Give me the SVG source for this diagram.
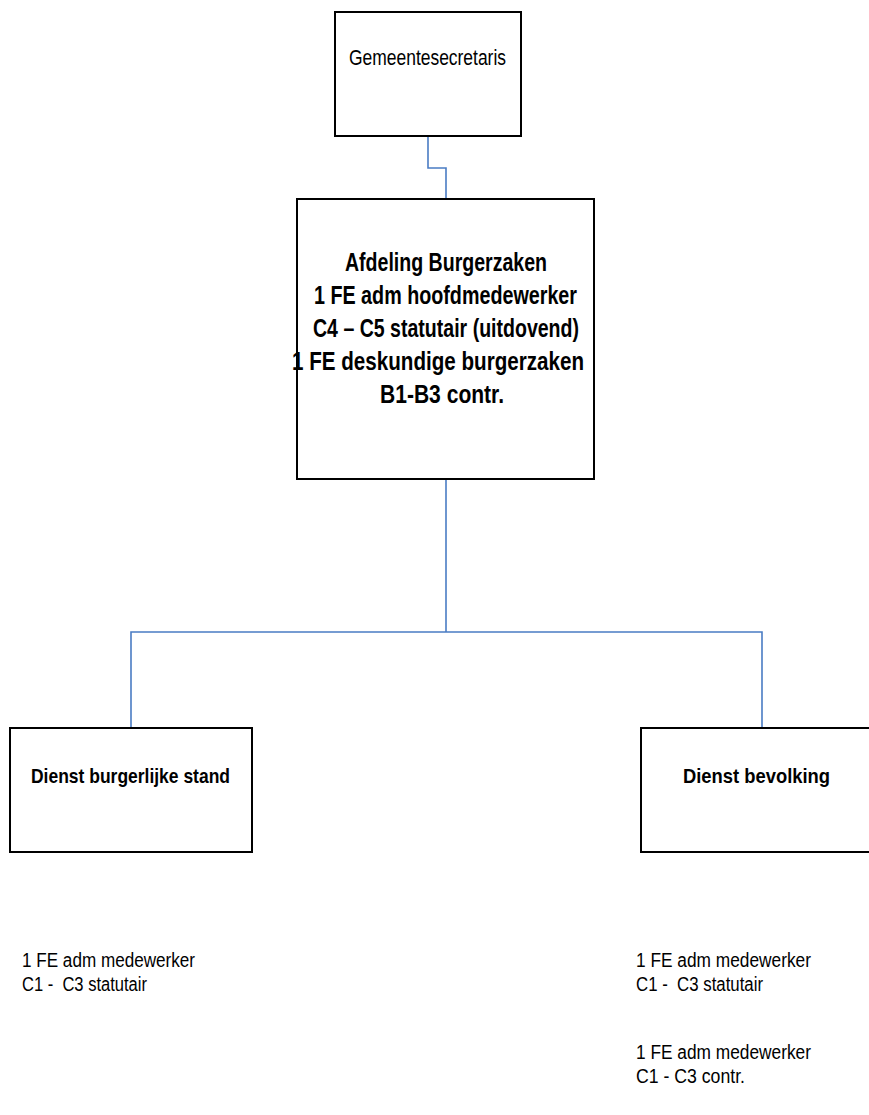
<svg xmlns="http://www.w3.org/2000/svg" width="869" height="1115" viewBox="0 0 869 1115">
<style>
.box{fill:#fff;stroke:#000;stroke-width:2}
.con{fill:none;stroke:#4a7cc4;stroke-width:1.6}
.t{font-family:"Liberation Sans Narrow","Liberation Sans",Arial,sans-serif;fill:#000;white-space:pre}
.b{font-weight:bold}
</style>
<rect width="869" height="1115" fill="#fff"/>
<g id="connectors">
<polyline class="con" points="428,136 428,168 446,168 446,199"/>
<polyline class="con" points="446,479 446,632"/>
<polyline class="con" points="131,728 131,632 762,632 762,728"/>
</g>
<g id="gemeentesecretaris">
<rect class="box" x="335" y="12" width="186" height="124"/>
<text class="t" x="349" y="65" font-size="22" textLength="157" lengthAdjust="spacingAndGlyphs">Gemeentesecretaris</text>
</g>
<g id="afdeling">
<rect class="box" x="297" y="199" width="297" height="280"/>
<text class="t b" font-size="25">
<tspan x="345" y="271" textLength="202" lengthAdjust="spacingAndGlyphs">Afdeling Burgerzaken</tspan>
<tspan x="314" y="304" textLength="263" lengthAdjust="spacingAndGlyphs">1 FE adm hoofdmedewerker</tspan>
<tspan x="313" y="337" textLength="266" lengthAdjust="spacingAndGlyphs">C4 – C5 statutair (uitdovend)</tspan>
<tspan x="292" y="370" textLength="292" lengthAdjust="spacingAndGlyphs">1 FE deskundige burgerzaken</tspan>
<tspan x="380" y="403" textLength="124" lengthAdjust="spacingAndGlyphs">B1-B3 contr.</tspan>
</text>
</g>
<g id="burgerlijke-stand">
<rect class="box" x="10" y="728" width="242" height="124"/>
<text class="t b" x="31" y="783" font-size="21" textLength="199" lengthAdjust="spacingAndGlyphs">Dienst burgerlijke stand</text>
</g>
<g id="bevolking">
<rect class="box" x="641" y="728" width="240" height="124"/>
<text class="t b" x="683" y="783" font-size="21" textLength="147" lengthAdjust="spacingAndGlyphs">Dienst bevolking</text>
</g>
<g id="staff-left">
<text class="t" x="22" y="967" font-size="20" textLength="173" lengthAdjust="spacingAndGlyphs">1 FE adm medewerker</text>
<text class="t" x="22" y="991" font-size="20" textLength="125" lengthAdjust="spacingAndGlyphs">C1 -  C3 statutair</text>
</g>
<g id="staff-right">
<text class="t" x="636" y="967" font-size="20" textLength="175" lengthAdjust="spacingAndGlyphs">1 FE adm medewerker</text>
<text class="t" x="636" y="991" font-size="20" textLength="127" lengthAdjust="spacingAndGlyphs">C1 -  C3 statutair</text>
<text class="t" x="636" y="1059" font-size="20" textLength="175" lengthAdjust="spacingAndGlyphs">1 FE adm medewerker</text>
<text class="t" x="636" y="1083" font-size="20" textLength="109" lengthAdjust="spacingAndGlyphs">C1 - C3 contr.</text>
</g>
</svg>
